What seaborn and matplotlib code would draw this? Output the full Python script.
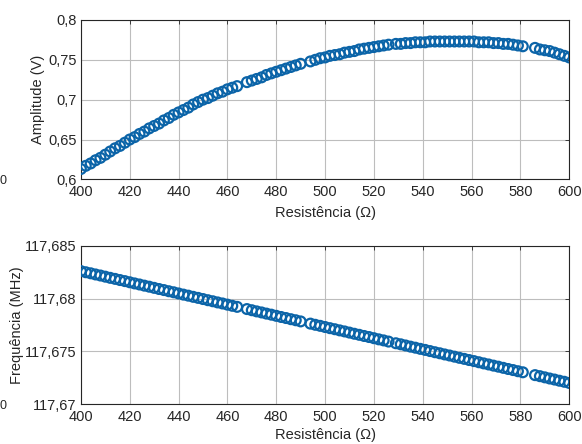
import matplotlib
matplotlib.use("Agg")
import matplotlib.pyplot as plt
import seaborn as sns
import pandas as pd

resistencia = [400, 402, 404, 406, 408, 410, 412, 414, 416, 418, 420, 422, 424, 426, 428, 430,
               432, 434, 436, 438, 440, 442, 444, 446, 448, 450, 452, 454, 456, 458, 460, 462, 464,
               468, 470, 472, 474, 476, 478, 480, 482, 484, 486, 488, 490,
               494, 496, 498, 500, 502, 504, 506, 508, 510, 512, 514, 516, 518, 520, 522, 524, 526,
               529, 531, 533, 535, 537, 539, 541, 543, 545, 547, 549, 551, 553, 555, 557, 559, 561,
               563, 565, 567, 569, 571, 573, 575, 577, 579, 581,
               586, 588, 590, 592, 594, 596, 598, 600]

amplitude = [0.613, 0.617, 0.620, 0.624, 0.627, 0.631, 0.635, 0.639, 0.642, 0.646, 0.650, 0.653,
             0.657, 0.660, 0.664, 0.667, 0.670, 0.674, 0.677, 0.681, 0.684, 0.687, 0.690, 0.694,
             0.697, 0.700, 0.702, 0.705, 0.708, 0.710, 0.713, 0.715, 0.717,
             0.722, 0.724, 0.726, 0.728, 0.731, 0.733, 0.735, 0.737, 0.739, 0.741, 0.743, 0.745,
             0.748, 0.750, 0.752, 0.753, 0.755, 0.756, 0.757, 0.759, 0.760, 0.761, 0.763, 0.764,
             0.765, 0.766, 0.767, 0.768, 0.769,
             0.770, 0.770, 0.771, 0.771, 0.772, 0.772, 0.772, 0.773, 0.773, 0.773, 0.773, 0.773,
             0.773, 0.773, 0.773, 0.773, 0.773, 0.772, 0.772, 0.772, 0.771, 0.771, 0.770, 0.770,
             0.769, 0.768, 0.767,
             0.765, 0.763, 0.762, 0.761, 0.759, 0.757, 0.755, 0.753]

frequencia = [117.68260, 117.68249, 117.68239, 117.68228, 117.68218, 117.68207, 117.68196,
              117.68186, 117.68175, 117.68165, 117.68154, 117.68143, 117.68133, 117.68122,
              117.68112, 117.68101, 117.68090, 117.68080, 117.68069, 117.68059, 117.68048,
              117.68037, 117.68027, 117.68016, 117.68006, 117.67995, 117.67984, 117.67974,
              117.67963, 117.67953, 117.67942, 117.67931, 117.67921,
              117.67900, 117.67889, 117.67878, 117.67868, 117.67857, 117.67847, 117.67836,
              117.67825, 117.67815, 117.67804, 117.67794, 117.67783,
              117.67762, 117.67751, 117.67741, 117.67730, 117.67719, 117.67709, 117.67698,
              117.67688, 117.67677, 117.67666, 117.67656, 117.67645, 117.67635, 117.67624,
              117.67613, 117.67603, 117.67592,
              117.67576, 117.67566, 117.67555, 117.67544, 117.67534, 117.67523, 117.67513,
              117.67502, 117.67491, 117.67481, 117.67470, 117.67460, 117.67449, 117.67438,
              117.67428, 117.67417, 117.67407, 117.67396, 117.67385, 117.67375, 117.67364,
              117.67354, 117.67343, 117.67332, 117.67322, 117.67311, 117.67301,
              117.67274, 117.67264, 117.67253, 117.67242, 117.67232, 117.67221, 117.67211,
              117.67200]

x_ticks = [400, 420, 440, 460, 480, 500, 520, 540, 560, 580, 600]
amp_ticks = [0.6, 0.65, 0.7, 0.75, 0.8]
amp_labels = ["0,6", "0,65", "0,7", "0,75", "0,8"]
freq_ticks = [117.67, 117.675, 117.68, 117.685]
freq_labels = ["117,67", "117,675", "117,68", "117,685"]

df = pd.DataFrame({"R": resistencia, "A": amplitude, "F": frequencia})

sns.set_theme(style="whitegrid")
plt.rcParams["font.family"] = ["Liberation Sans", "DejaVu Sans"]

fig = plt.figure(figsize=(5.82, 4.44), dpi=100)
ax1 = fig.add_axes([0.139, 0.596, 0.839, 0.359])
ax2 = fig.add_axes([0.139, 0.090, 0.839, 0.3565])

blue = "#0B64A8"
for ax, col, ticks, labels, ylab, ylim, lpad, xpad in [
    (ax1, "A", amp_ticks, amp_labels, "Amplitude (V)", (0.6, 0.8), 2, 5),
    (ax2, "F", freq_ticks, freq_labels, "Frequência (MHz)", (117.67, 117.685), 1, 3.5),
]:
    sns.scatterplot(data=df, x="R", y=col, ax=ax, marker="o", s=50,
                    facecolor="none", edgecolor=blue, linewidth=1.6, zorder=3)
    ax.set_facecolor("white")
    ax.set_xlim(400, 600)
    ax.set_ylim(*ylim)
    ax.set_xticks(x_ticks)
    ax.set_xticklabels([str(t) for t in x_ticks])
    ax.set_yticks(ticks)
    ax.set_yticklabels(labels)
    ax.grid(True, color="#bdbdbd", linewidth=0.8)
    for sp in ax.spines.values():
        sp.set_color("#262626")
        sp.set_linewidth(0.8)
        sp.set_visible(True)
    ax.tick_params(axis="both", direction="in", length=3, width=0.6, color="#262626",
                   labelsize=10.5, labelcolor="#262626", top=True, right=True)
    ax.tick_params(axis="x", pad=4)
    ax.tick_params(axis="y", pad=3)
    ax.set_xlabel("Resistência (Ω)", fontsize=10.5, color="#262626", labelpad=xpad)
    ax.set_ylabel(ylab, fontsize=10.5, color="#262626", labelpad=lpad)

fig.text(0.0, 1 - 181 / 444, "0", fontsize=9, color="#262626", va="center", ha="left")
fig.text(0.0, 1 - 406 / 444, "0", fontsize=9, color="#262626", va="center", ha="left")

fig.savefig("out.png", dpi=100, facecolor="white")
